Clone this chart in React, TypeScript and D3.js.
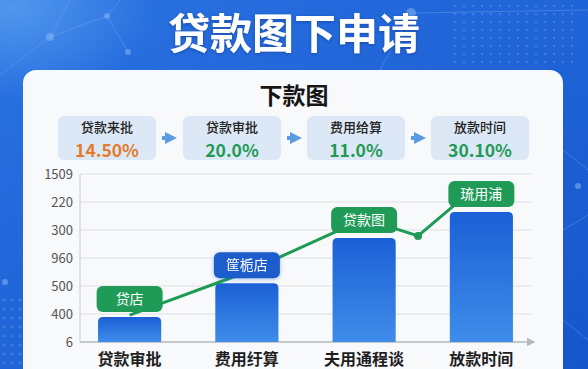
import React from 'react';
import * as d3 from 'd3';

// chart data
const categories = ['贷款审批', '费用纡算', '夫用通程谈', '放款时间'];
const barValues = [0.89, 2.1, 3.71, 4.64];
const tickLabels = ['6', '400', '500', '960', '300', '220', '1509'];
const tagLabels = ['贷店', '筐栀店', '贷款图', '琉用浦'];
const tagColors = ['#1f9b57', '#1d5bcb', '#1f9b57', '#1f9b57'];
const lineIndex = [0, 1, 2, 2.46, 3];
const lineValues = [0.96, 2.5, 4.4, 3.79, 5.7];
const stepNames = ['贷款来批', '贷款审批', '费用给算', '放款时间'];
const stepValues = ['14.50%', '20.0%', '11.0%', '30.10%'];
const stepColors = ['#e27b2b', '#1f9a55', '#1f9a55', '#1f9a55'];

const W = 588;
const H = 369;
const font = "'Noto Sans CJK SC', 'Noto Sans', sans-serif";

const App = () => {
    const x = d3.scaleBand().domain(categories).range([80, 531]).paddingInner(0.4615).paddingOuter(0.154);
    const y = d3.scaleLinear().domain([0, 6]).range([342, 174]);
    const bw = x.bandwidth();
    const cx = (c: string) => (x(c) as number) + bw / 2;
    const xi = d3.scaleLinear().domain([0, 3]).range([cx(categories[0]), cx(categories[3])]);

    const linePath = d3.line<number>()
        .x((d, i) => xi(lineIndex[i]))
        .y(d => y(d))(lineValues);

    const barPath = (c: string, v: number) => {
        const x0 = x(c) as number;
        const x1 = x0 + bw;
        const y0 = y(0);
        const y1 = y(v);
        const r = 5;
        return `M${x0},${y0}V${y1 + r}Q${x0},${y1} ${x0 + r},${y1}H${x1 - r}Q${x1},${y1} ${x1},${y1 + r}V${y0}Z`;
    };

    // decoration: dot grids
    const dotsRight: [number, number][] = [];
    for (let i = 0; i < 14; i++) for (let j = 0; j < 8; j++) dotsRight.push([455 + i * 9, 6 + j * 8]);
    const dotsLeft: [number, number][] = [];
    for (let i = 0; i < 3; i++) for (let j = 0; j < 8; j++) dotsLeft.push([4 + i * 8, 300 + j * 9]);

    const stepX = [58, 183, 307, 431];

    return (
        <svg width={W} height={H} style={{ position: 'absolute', left: 0, top: 0 }} fontFamily={font}>
            <defs>
                <linearGradient id="bg" x1="0" y1="0" x2="1" y2="1">
                    <stop offset="0" stopColor="#2a72e2" />
                    <stop offset="1" stopColor="#1656cc" />
                </linearGradient>
                <radialGradient id="glowTL" cx="0.02" cy="0.02" r="0.25">
                    <stop offset="0" stopColor="#5aa0f0" stopOpacity="0.8" />
                    <stop offset="1" stopColor="#5aa0f0" stopOpacity="0" />
                </radialGradient>
                <linearGradient id="bar" x1="0" y1="0" x2="0" y2="1">
                    <stop offset="0" stopColor="#1b60d6" />
                    <stop offset="1" stopColor="#3f8ce9" />
                </linearGradient>
                <filter id="shadow" x="-20%" y="-20%" width="140%" height="160%">
                    <feDropShadow dx="0" dy="1" stdDeviation="2" floodColor="#1d5bcb" floodOpacity="0.35" />
                </filter>
                <filter id="tshadow">
                    <feDropShadow dx="0" dy="1" stdDeviation="1.5" floodColor="#0a2c70" floodOpacity="0.5" />
                </filter>
                <marker id="arrow" viewBox="0 0 10 10" refX="5" refY="5" markerWidth="6" markerHeight="6" orient="auto">
                    <path d="M0,0L10,5L0,10Z" fill="#b5b8bd" />
                </marker>
                <marker id="stepArrow" viewBox="0 0 10 10" refX="5" refY="5" markerWidth="3" markerHeight="3" orient="auto">
                    <path d="M0,0L10,5L0,10Z" fill="#5a9be3" />
                </marker>
            </defs>

            <rect width={W} height={H} fill="url(#bg)" />
            <rect width={W} height={H} fill="url(#glowTL)" />
            <g stroke="#7fb2f2" strokeOpacity="0.35" strokeWidth="1" fill="none">
                <path d="M0,75L50,37L107,16L128,52M50,37L70,0M107,16L120,0" />
                <path d="M380,70L411,13L470,12L588,10" />
                <path d="M563,150L588,170M563,230L588,215M563,320L588,340" />
            </g>
            <g fill="#8cbcf5" fillOpacity="0.5">
                <circle cx={50} cy={37} r={4} />
                <circle cx={107} cy={16} r={3} />
                <circle cx={128} cy={52} r={3} />
                <circle cx={411} cy={13} r={5} />
                <circle cx={5} cy={282} r={3} />
                <circle cx={578} cy={186} r={3} />
            </g>
            <g fill="#6fa8ef" fillOpacity="0.35">
                {dotsRight.map((d, i) => <circle key={'r' + i} cx={d[0]} cy={d[1]} r={1.3} />)}
                {dotsLeft.map((d, i) => <circle key={'l' + i} cx={d[0]} cy={d[1]} r={1.6} />)}
            </g>

            <text x={294} y={49} textAnchor="middle" fontSize={42} fontWeight={700} fill="#ffffff" filter="url(#tshadow)">贷款图下申请</text>

            <rect x={23} y={70} width={540} height={320} rx={13} fill="#f8f9fb" />

            <text x={294} y={104} textAnchor="middle" fontSize={23} fontWeight={700} fill="#161616">下款图</text>

            {stepNames.map((s, i) => (
                <g key={s + i}>
                    <rect x={stepX[i]} y={116} width={98} height={44} rx={6} fill="#dde8f6" />
                    <text x={stepX[i] + 49} y={132} textAnchor="middle" fontSize={13} fontWeight={500} fill="#222">{s}</text>
                    <text x={stepX[i] + 49} y={157} textAnchor="middle" fontSize={17.5} fontWeight={600} fill={stepColors[i]}>{stepValues[i]}</text>
                    {i < 3 && (
                        <line x1={stepX[i] + 104} y1={138} x2={stepX[i] + 113} y2={138} stroke="#5a9be3" strokeWidth={4} markerEnd="url(#stepArrow)" />
                    )}
                </g>
            ))}

            {tickLabels.map((t, i) => (
                <g key={'t' + i}>
                    <line x1={80} x2={531} y1={y(i)} y2={y(i)} stroke={i === 0 ? '#b5b8bd' : '#dedfe2'} strokeWidth={i === 0 ? 1.5 : 1} markerEnd={i === 0 ? 'url(#arrow)' : undefined} />
                    <text x={73} y={y(i) + 4.5} textAnchor="end" fontSize={13} fill="#555">{t}</text>
                </g>
            ))}
            <line x1={80} x2={80} y1={y(6)} y2={y(0)} stroke="#c9cbcf" />

            {categories.map((c, i) => (
                <path key={c} d={barPath(c, barValues[i])} fill="url(#bar)" />
            ))}

            <path d={linePath || ''} fill="none" stroke="#1f9a55" strokeWidth={3} strokeLinejoin="round" />
            <circle cx={xi(lineIndex[3])} cy={y(lineValues[3])} r={4} fill="#1f9a55" />

            {categories.map((c, i) => (
                <g key={'tag' + i} filter={i === 1 ? 'url(#shadow)' : undefined}>
                    <rect x={cx(c) - 33} y={y(barValues[i]) - 31} width={66} height={26} rx={6} fill={tagColors[i]} />
                    <text x={cx(c)} y={y(barValues[i]) - 13} textAnchor="middle" fontSize={14} fill="#fff">{tagLabels[i]}</text>
                </g>
            ))}

            {categories.map(c => (
                <text key={'x' + c} x={cx(c)} y={365} textAnchor="middle" fontSize={16} fontWeight={700} fill="#1e1e1e">{c}</text>
            ))}
        </svg>
    );
};

export default App;
